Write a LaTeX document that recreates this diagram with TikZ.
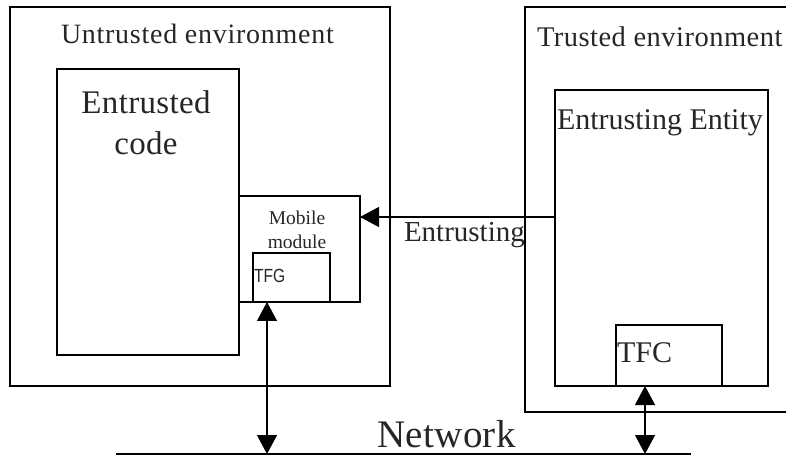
\documentclass[tikz,border=0pt]{standalone}
\usepackage{fontspec}
\setmainfont{Liberation Serif}
\newfontfamily\sansf{Liberation Sans}
\usetikzlibrary{arrows.meta,fit}
\begin{document}
\begin{tikzpicture}[x=1bp,y=-1bp,
  box/.style={draw, inner sep=0pt, outer sep=0pt, line width=1.2bp},
  lbl/.style={inner sep=0pt, outer sep=0pt, text=black!85},
  link/.style={line width=1.2bp, -{Triangle[length=19bp,width=20bp]}},
  both/.style={line width=1.2bp, {Triangle[length=19bp,width=20bp]}-{Triangle[length=19bp,width=20bp]}}
]
\clip (0,0) rectangle (786,457);
% boxes
\node[box, fit={(10,7) (390,386)}] (untrusted) {};
\node[box, fit={(57,69) (239,355)}] (code) {};
\node[box, fit={(239,196) (360,302)}] (mobile) {};
\node[box, fit={(253,253) (330,302)}] (tfg) {};
\node[box, fit={(525,7) (830,412)}] (trusted) {};
\node[box, fit={(555,90) (768,386)}] (entity) {};
\node[box, fit={(616,325) (722,386)}] (tfc) {};
% labels
\node[lbl, anchor=base west, font=\fontsize{28bp}{34bp}\selectfont\addfontfeature{LetterSpace=2.6}] (untrustedlbl) at (61,44) {Untrusted environment};
\node[lbl, anchor=north, align=center, font=\fontsize{33bp}{41bp}\selectfont\addfontfeature{LetterSpace=1}] (codelbl) at (146,91) {Entrusted\\code};
\node[lbl, anchor=north, align=center, font=\fontsize{19.5bp}{24bp}\selectfont] (mobilelbl) at (297,211) {Mobile\\module};
\node[lbl, anchor=base west, font=\sansf\fontsize{19bp}{23bp}\selectfont] (tfglbl) at (254,283) {\scalebox{0.82}[1]{TFG}};
\node[lbl, anchor=base west, font=\fontsize{28.5bp}{34bp}\selectfont\addfontfeature{LetterSpace=1.7}] (trustedlbl) at (537,47) {Trusted environment};
\node[lbl, anchor=base west, font=\fontsize{30bp}{36bp}\selectfont] (entitylbl) at (557,130) {Entrusting Entity};
\node[lbl, anchor=base west, font=\fontsize{30bp}{36bp}\selectfont] (tfclbl) at (617,363) {TFC};
\node[lbl, anchor=base west, font=\fontsize{29bp}{35bp}\selectfont] (entrustinglbl) at (404,242) {Entrusting};
\node[lbl, anchor=base west, font=\fontsize{39bp}{47bp}\selectfont\addfontfeature{LetterSpace=1}] (netlbl) at (377,447) {Network};
% network line
\coordinate (netL) at (116,454);
\coordinate (netR) at (691,454);
\draw[line width=1.2bp] (netL) -- (netR);
% connectors
\draw[link] (entity.west |- 0,217) -- (mobile.east |- 0,217);
\draw[both] (tfg.south -| 267,0) -- (netL -| 267,0);
\draw[both] (tfc.south -| 645,0) -- (netR -| 645,0);
\end{tikzpicture}
\end{document}
